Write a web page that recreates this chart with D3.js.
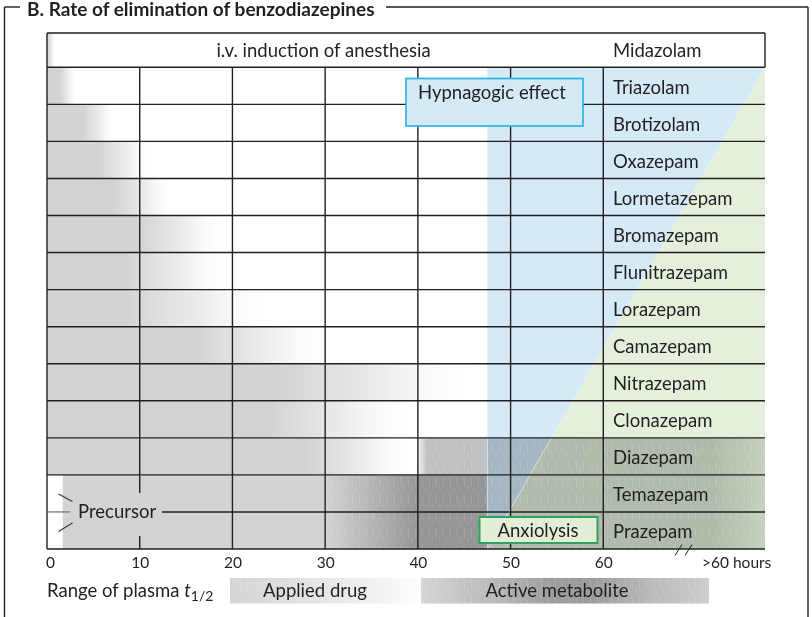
<!DOCTYPE html>
<html><head><meta charset="utf-8">
<script src="https://cdn.jsdelivr.net/npm/d3@7"></script>
<style>
html,body{margin:0;padding:0;background:#fff;}
svg{display:block;font-family:Lato,"Open Sans",sans-serif;}
</style></head><body>
<svg id="chart" width="812" height="617"></svg>
<script>
// ---- data ----
const title = "B. Rate of elimination of benzodiazepines";
const headerLabel = "i.v. induction of anesthesia";
const headerDrug = "Midazolam";
const headerApplied = [0, 0.1, 0.9];           // start, end of solid gray, end of fade (hours)
const drugs = ["Triazolam","Brotizolam","Oxazepam","Lormetazepam","Bromazepam","Flunitrazepam",
               "Lorazepam","Camazepam","Nitrazepam","Clonazepam","Diazepam","Temazepam","Prazepam"];
// plasma half-life range of the applied drug (hours)
const appliedStart = [0, 0, 0, 0, 0, 0, 0, 0, 0, 0, 0, 1.7, 1.7];
const appliedSolid = [1.4, 3.9, 5.4, 7.2, 9.7, 8.5, 8.5, 16, 25, 24, 28, 30, 30];
const appliedFade  = [3.2, 7.5, 11.5, 14, 19.7, 20, 24.8, 31, 47, 40, 40, 30, 30];
// active metabolite: rows and the hour where it begins
const metaboliteRows = ["Diazepam", "Temazepam", "Prazepam"];
const metaboliteStart = [40, 30, 30];
const metaboliteFull = [41, 40, 40];
const metaboliteDark = ["#c0c1c3", "#959698", "#959698"];
const hypnoticFrom = 47.5;                       // hours, left edge of effect fields
const xTicks = [0, 10, 20, 30, 40, 50, 60];
const beyondLabel = ">60 hours";
const legendTitle = "Range of plasma ";
const legendItems = ["Applied drug", "Active metabolite"];
const effectLabels = ["Hypnagogic effect", "Anxiolysis"];
const precursorLabel = "Precursor";

// ---- layout ----
const ink = "#231f20";
const grayC = "#d1d3d4";
const blueC = "#d4eaf7";
const greenC = "#e5f0dc";
const L = 47, R = 765, T = 33, H0 = 67.3, B = 549;
const FS = 18.5;

const svg = d3.select("#chart");
const defs = svg.append("defs");
const x = d3.scaleLinear().domain([0, 60]).range([L, 603.3]);
const y = d3.scaleBand().domain(drugs).range([H0, B]);

// streak texture used on the metabolite shading
const pat = defs.append("pattern").attr("id", "streaks").attr("patternUnits", "userSpaceOnUse")
  .attr("width", 7).attr("height", 17);
pat.append("line").attr("x1", 2).attr("x2", 2.6).attr("y1", 1).attr("y2", 11)
  .attr("stroke", "#fff").attr("stroke-width", 0.7).attr("stroke-opacity", 0.2);
pat.append("line").attr("x1", 5.5).attr("x2", 5.9).attr("y1", 9).attr("y2", 16)
  .attr("stroke", "#fff").attr("stroke-width", 0.6).attr("stroke-opacity", 0.14);

// effect fields
const xe = x(hypnoticFrom);
svg.append("polygon").attr("points", [[xe, H0], [R, H0], [xe, B]].join(" ")).attr("fill", blueC);
svg.append("polygon").attr("points", [[R, H0], [R, B], [xe, B]].join(" ")).attr("fill", greenC);

// applied drug shading
function appliedGradient(id, s, solid, fade) {
  const g = defs.append("linearGradient").attr("id", id).attr("gradientUnits", "userSpaceOnUse")
    .attr("x1", x(s)).attr("x2", x(fade)).attr("y1", 0).attr("y2", 0);
  const f = fade > s ? (solid - s) / (fade - s) : 1;
  g.append("stop").attr("offset", 0).attr("stop-color", grayC);
  g.append("stop").attr("offset", f).attr("stop-color", grayC);
  g.append("stop").attr("offset", Math.min(1, f + (1 - f) * 0.5)).attr("stop-color", "#e6e7e8").attr("stop-opacity", 0.8);
  g.append("stop").attr("offset", 1).attr("stop-color", "#fff").attr("stop-opacity", 0);
}
appliedGradient("ap-h", ...headerApplied);
svg.append("rect").attr("x", x(headerApplied[0])).attr("y", T).attr("width", x(headerApplied[2]) - x(headerApplied[0]))
  .attr("height", H0 - T).attr("fill", "url(#ap-h)");
drugs.forEach((d, i) => {
  appliedGradient("ap" + i, appliedStart[i], appliedSolid[i], appliedFade[i]);
  svg.append("rect").attr("x", x(appliedStart[i])).attr("y", y(d))
    .attr("width", x(appliedFade[i]) - x(appliedStart[i])).attr("height", y.bandwidth())
    .attr("fill", "url(#ap" + i + ")");
});

// active metabolite shading (multiplied over the fields)
metaboliteRows.forEach((d, i) => {
  const g = defs.append("linearGradient").attr("id", "mt" + i).attr("gradientUnits", "userSpaceOnUse")
    .attr("x1", x(metaboliteStart[i])).attr("x2", R).attr("y1", 0).attr("y2", 0);
  const span = R - x(metaboliteStart[i]);
  const off = px => (px - x(metaboliteStart[i])) / span;
  g.append("stop").attr("offset", 0).attr("stop-color", i === 0 ? "#f2f2f2" : grayC);
  g.append("stop").attr("offset", off(x(metaboliteFull[i]))).attr("stop-color", metaboliteDark[i]);
  g.append("stop").attr("offset", off(xe - 0.5)).attr("stop-color", metaboliteDark[i]);
  g.append("stop").attr("offset", off(xe + 0.5)).attr("stop-color", "#c6c8ca");
  g.append("stop").attr("offset", off(712)).attr("stop-color", "#c4c6c6");
  g.append("stop").attr("offset", 1).attr("stop-color", "#dcdede");
  const x0 = x(metaboliteStart[i]);
  svg.append("rect").attr("x", x0).attr("y", y(d)).attr("width", R - x0).attr("height", y.bandwidth())
    .attr("fill", "url(#mt" + i + ")").style("mix-blend-mode", "multiply");
  svg.append("rect").attr("x", x0).attr("y", y(d)).attr("width", R - x0).attr("height", y.bandwidth())
    .attr("fill", "url(#streaks)");
});
// light seam along the effect field edges in the shaded rows
const mTop = y(metaboliteRows[0]);
svg.append("line").attr("x1", xe).attr("x2", xe).attr("y1", mTop).attr("y2", B)
  .attr("stroke", "#fff").attr("stroke-opacity", 0.6).attr("stroke-width", 1);
const diagX = yy => R - (R - xe) * (yy - H0) / (B - H0);
svg.append("line").attr("x1", diagX(mTop)).attr("x2", xe).attr("y1", mTop).attr("y2", B)
  .attr("stroke", "#fff").attr("stroke-opacity", 0.5).attr("stroke-width", 1);

// ---- grid ----
const grid = svg.append("g").attr("stroke", ink).attr("stroke-width", 1.4).attr("fill", "none");
const rowEdges = drugs.map(d => y(d)).concat([B]);
const splitY = y("Prazepam");
grid.selectAll("line.h").data([T].concat(rowEdges.filter(v => Math.abs(v - splitY) > 0.1))).join("line")
  .attr("x1", L).attr("x2", R).attr("y1", d => d).attr("y2", d => d);
grid.append("line").attr("x1", 162).attr("x2", R).attr("y1", splitY).attr("y2", splitY);
grid.append("line").attr("x1", L).attr("x2", L).attr("y1", T).attr("y2", B);
grid.append("line").attr("x1", R).attr("x2", R).attr("y1", T).attr("y2", H0);
xTicks.slice(1).forEach(t => {
  if (t === 10) {
    grid.append("line").attr("x1", x(t)).attr("x2", x(t)).attr("y1", H0).attr("y2", 493);
    grid.append("line").attr("x1", x(t)).attr("x2", x(t)).attr("y1", 536).attr("y2", B);
  } else {
    grid.append("line").attr("x1", x(t)).attr("x2", x(t)).attr("y1", H0).attr("y2", B);
  }
});

// ---- row labels ----
const labels = svg.append("g").attr("fill", ink).attr("font-size", FS);
labels.append("text").attr("x", 613).attr("y", 57).text(headerDrug);
labels.append("text").attr("x", 323.5).attr("y", 57).attr("text-anchor", "middle").text(headerLabel);
labels.selectAll("text.drug").data(drugs).join("text").attr("class", "drug")
  .attr("x", 613).attr("y", d => y(d) + y.bandwidth() / 2 + 8).text(d => d);

// ---- effect boxes ----
svg.append("rect").attr("x", 406).attr("y", 78.5).attr("width", 177).attr("height", 47.5)
  .attr("fill", blueC).attr("stroke", "#21b1e6").attr("stroke-width", 1.6);
svg.append("text").attr("x", 418).attr("y", 99).attr("fill", ink).attr("font-size", FS).text(effectLabels[0]);
svg.append("rect").attr("x", 479.5).attr("y", 517).attr("width", 118).attr("height", 26)
  .attr("fill", "#e3eed7").attr("stroke", "#2ca55a").attr("stroke-width", 2);
svg.append("text").attr("x", 538).attr("y", 537).attr("text-anchor", "middle").attr("fill", ink)
  .attr("font-size", FS).text(effectLabels[1]);

// ---- precursor marker ----
const pm = svg.append("g").attr("stroke-width", 1.2);
pm.append("line").attr("x1", L).attr("x2", 70).attr("y1", splitY).attr("y2", splitY).attr("stroke", "#6d6e70");
pm.append("line").attr("x1", 58.5).attr("y1", 494).attr("x2", 72.5).attr("y2", 501.5).attr("stroke", "#3a3a3a");
pm.append("line").attr("x1", 58.5).attr("y1", 531.5).attr("x2", 72.5).attr("y2", 523).attr("stroke", "#3a3a3a");
svg.append("text").attr("x", 78).attr("y", 517.5).attr("fill", ink).attr("font-size", FS).text(precursorLabel);

// ---- axis ----
const axis = svg.append("g").attr("transform", `translate(0,${B})`)
  .call(d3.axisBottom(x).tickValues(xTicks).tickSize(0).tickFormat(d3.format("d")));
axis.select(".domain").remove();
axis.selectAll("text").attr("y", 19).attr("dy", 0).attr("fill", ink)
  .attr("font-size", 15.5).attr("font-family", "Lato, 'Open Sans', sans-serif");
axis.selectAll(".tick").filter(d => d === 0).select("text").attr("x", 3);
svg.append("text").attr("x", 702).attr("y", 568).attr("fill", ink).attr("font-size", 15.5).text(beyondLabel);
const br = svg.append("g").attr("stroke", ink).attr("stroke-width", 1);
br.append("line").attr("x1", 675).attr("y1", 555.5).attr("x2", 682).attr("y2", 544.5);
br.append("line").attr("x1", 685).attr("y1", 555.5).attr("x2", 692).attr("y2", 544.5);

// ---- legend ----
const lt = svg.append("text").attr("x", 47).attr("y", 597).attr("fill", ink).attr("font-size", FS);
lt.append("tspan").text(legendTitle);
lt.append("tspan").attr("font-style", "italic").text("t");
lt.append("tspan").attr("font-size", 14).attr("dy", 4).text("1/2");

const g1 = defs.append("linearGradient").attr("id", "lg-applied");
[[0, "#d3d5d6"], [0.3, "#dcdedf"], [0.75, "#f1f1f1"], [1, "#fcfcfc"]]
  .forEach(([o, c]) => g1.append("stop").attr("offset", o).attr("stop-color", c));
const g2 = defs.append("linearGradient").attr("id", "lg-metab");
[[0, "#d3d5d6"], [0.25, "#b8b9bb"], [0.45, "#9d9ea0"], [0.58, "#9a9b9d"], [0.8, "#b8babb"], [1, "#cbcdce"]]
  .forEach(([o, c]) => g2.append("stop").attr("offset", o).attr("stop-color", c));
svg.append("rect").attr("x", 230).attr("y", 578).attr("width", 187).attr("height", 25.5).attr("fill", "url(#lg-applied)");
svg.append("rect").attr("x", 230).attr("y", 578).attr("width", 90).attr("height", 25.5).attr("fill", "url(#streaks)");
svg.append("rect").attr("x", 421).attr("y", 578).attr("width", 288).attr("height", 25.5).attr("fill", "url(#lg-metab)");
svg.append("rect").attr("x", 421).attr("y", 578).attr("width", 288).attr("height", 25.5).attr("fill", "url(#streaks)");
svg.append("text").attr("x", 315).attr("y", 597).attr("text-anchor", "middle").attr("fill", ink).attr("font-size", FS).text(legendItems[0]);
svg.append("text").attr("x", 557).attr("y", 597).attr("text-anchor", "middle").attr("fill", ink).attr("font-size", FS).text(legendItems[1]);

// ---- panel frame and title ----
const fr = svg.append("g").attr("stroke", ink).attr("stroke-width", 1.4).attr("fill", "none");
fr.append("line").attr("x1", 4.5).attr("x2", 4.5).attr("y1", 7).attr("y2", 617);
fr.append("line").attr("x1", 808).attr("x2", 808).attr("y1", 7).attr("y2", 617);
fr.append("line").attr("x1", 4.5).attr("x2", 20).attr("y1", 7).attr("y2", 7);
fr.append("line").attr("x1", 386).attr("x2", 808).attr("y1", 7).attr("y2", 7);
svg.append("text").attr("x", 27).attr("y", 15.5).attr("fill", ink).attr("font-size", 19)
  .attr("font-weight", "bold").text(title);
</script>
</body></html>
